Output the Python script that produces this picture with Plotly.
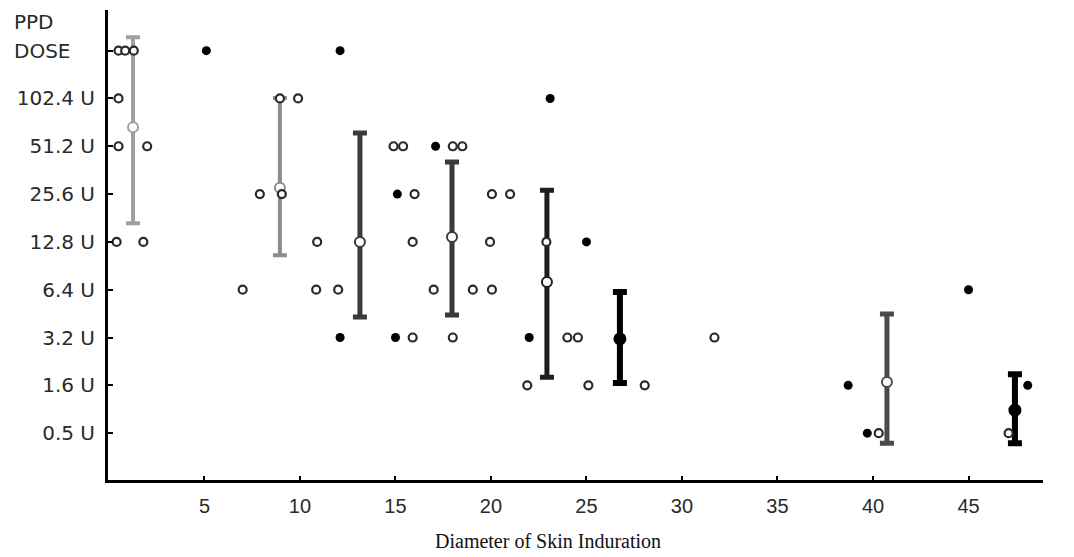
import plotly.graph_objects as go

# ---------------- data ----------------
# dose levels (bottom -> top); the top row carries no printed label
dose_levels = [0.5, 1.6, 3.2, 6.4, 12.8, 25.6, 51.2, 102.4, 204.8]
ytick_labels = ["0.5 U", "1.6 U", "3.2 U", "6.4 U", "12.8 U", "25.6 U", "51.2 U", "102.4 U", ""]

xtick_vals = [5, 10, 15, 20, 25, 30, 35, 40, 45]
xtick_labels = ["5", "10", "15", "20", "25", "30", "35", "40", "45"]

# individual subjects - filled dots
filled_x = [5.1, 12.1, 23.1, 17.1, 15.1, 25.0, 45.0, 12.1, 15.0, 22.0, 38.7, 48.1, 39.7]
filled_dose = [204.8, 204.8, 102.4, 51.2, 25.6, 12.8, 6.4, 3.2, 3.2, 3.2, 1.6, 1.6, 0.5]

# individual subjects - open circles
open_x = [0.5, 0.85, 1.3,
          0.5, 8.95, 9.9,
          0.5, 2.0, 14.9, 15.4, 18.0, 18.5,
          7.9, 9.05, 16.0, 20.05, 21.0,
          0.4, 1.8, 10.9, 15.9, 19.95, 22.9,
          7.0, 10.85, 12.0, 17.0, 19.05, 20.05,
          15.9, 18.0, 24.0, 24.55, 31.7,
          21.9, 25.1, 28.05,
          40.3, 47.1]
open_dose = [204.8, 204.8, 204.8,
             102.4, 102.4, 102.4,
             51.2, 51.2, 51.2, 51.2, 51.2, 51.2,
             25.6, 25.6, 25.6, 25.6, 25.6,
             12.8, 12.8, 12.8, 12.8, 12.8, 12.8,
             6.4, 6.4, 6.4, 6.4, 6.4, 6.4,
             3.2, 3.2, 3.2, 3.2, 3.2,
             1.6, 1.6, 1.6,
             0.5, 0.5]

# group means with ranges (positions expressed on the dose-level scale)
bar_x = [1.26, 8.95, 13.14, 17.96, 22.93, 26.75, 40.73, 47.43]
bar_mean = [6.40, 5.13, 4.00, 4.10, 3.16, 1.97, 1.07, 0.48]
bar_hi = [8.28, 7.01, 6.28, 5.67, 5.08, 2.95, 2.49, 1.23]
bar_lo = [4.39, 3.72, 2.43, 2.47, 1.17, 1.05, -0.21, -0.21]
bar_filled_mean = [False, False, False, False, False, True, False, True]

# ---------------- styling ----------------
bar_colors = ["#a0a0a0", "#8c8c8c", "#3a3a3a", "#3a3a3a", "#1e1e1e", "#000000", "#4a4a4a", "#000000"]
bar_thick = [4, 4, 5, 5, 5, 6, 5, 6]

def level(d):
    return dose_levels.index(d)

fig = go.Figure()

for i in range(len(bar_x)):
    filled = bar_filled_mean[i]
    fig.add_trace(go.Scatter(
        x=[bar_x[i]], y=[bar_mean[i]], mode="markers",
        marker=dict(size=11 if filled else 10, symbol="circle",
                    color="#000000" if filled else "#ffffff",
                    line=dict(color=bar_colors[i] if not filled else "#000000", width=2)),
        error_y=dict(type="data", symmetric=False,
                     array=[bar_hi[i] - bar_mean[i]],
                     arrayminus=[bar_mean[i] - bar_lo[i]],
                     color=bar_colors[i], thickness=bar_thick[i], width=7),
        showlegend=False, hoverinfo="skip"))

fig.add_trace(go.Scatter(
    x=open_x, y=[level(d) for d in open_dose], mode="markers",
    marker=dict(size=8, symbol="circle", color="#ffffff",
                line=dict(color="#2a2a2a", width=2.2)),
    showlegend=False))

fig.add_trace(go.Scatter(
    x=filled_x, y=[level(d) for d in filled_dose], mode="markers",
    marker=dict(size=9, symbol="circle", color="#000000",
                line=dict(color="#000000", width=0)),
    showlegend=False))

label_font = dict(family="DejaVu Sans, Liberation Sans, sans-serif", size=20, color="#2a2a2a")

fig.update_layout(
    width=1074, height=557,
    margin=dict(l=108, r=31, t=10, b=77),
    paper_bgcolor="white", plot_bgcolor="white",
    showlegend=False,
    xaxis=dict(range=[-0.05, 48.9], showgrid=False, zeroline=False,
               showline=True, linecolor="#000000", linewidth=2.5,
               tickmode="array", tickvals=xtick_vals, ticktext=xtick_labels,
               ticks="inside", ticklen=4, tickwidth=1.5, tickcolor="#000000",
               tickfont=dict(family="Liberation Sans Narrow, Liberation Sans, sans-serif",
                             size=20, color="#2a2a2a"),
               ticklabelstandoff=6),
    yaxis=dict(range=[-0.98, 8.85], showgrid=False, zeroline=False,
               showline=True, linecolor="#000000", linewidth=3,
               tickmode="array", tickvals=list(range(len(ytick_labels))), ticktext=ytick_labels,
               ticks="inside", ticklen=5, tickwidth=1.5, tickcolor="#000000",
               tickfont=label_font, ticklabelstandoff=6),
    annotations=[
        dict(text="PPD", xref="paper", yref="y", x=0, y=8.6, xanchor="left",
             xshift=-96, showarrow=False, font=label_font),
        dict(text="DOSE", xref="paper", yref="y", x=0, y=8.0, xanchor="left",
             xshift=-96, showarrow=False, font=label_font),
        dict(text="Diameter of Skin Induration", xref="x", yref="paper",
             x=23.0, y=0, yshift=-61, xanchor="center", yanchor="middle",
             showarrow=False,
             font=dict(family="Liberation Serif, Times New Roman, serif",
                       size=20, color="#111111")),
    ],
)

fig.write_html("out.html", config={"displayModeBar": False},
               post_script="document.body.style.margin='0';document.body.style.overflow='hidden';")
